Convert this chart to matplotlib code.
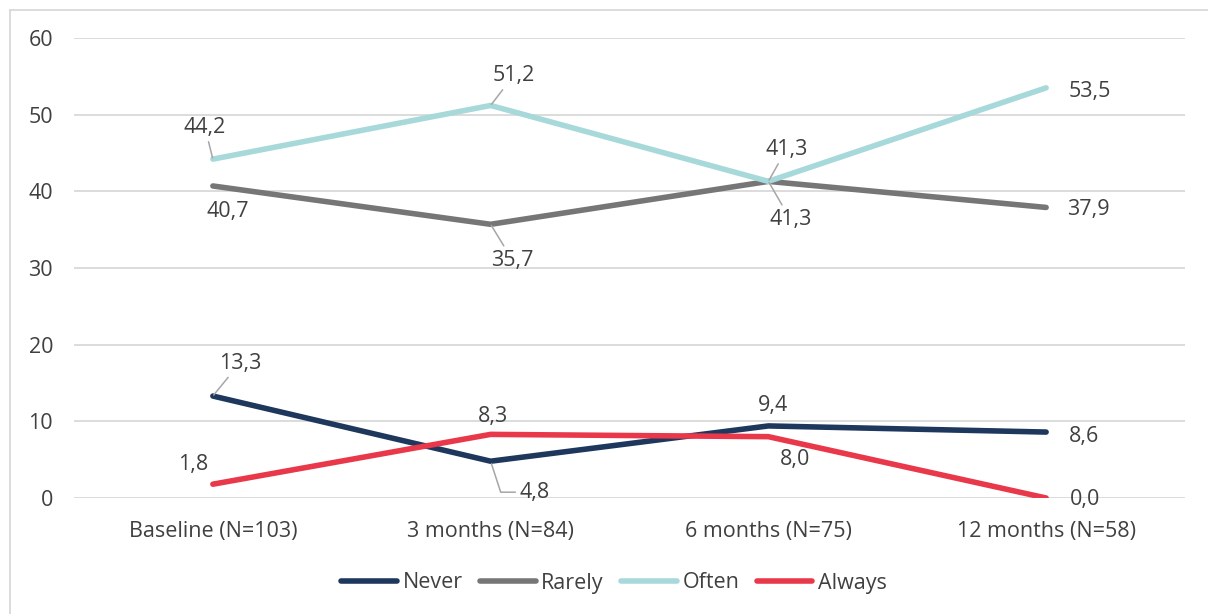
import matplotlib
matplotlib.use("Agg")
import matplotlib.pyplot as plt
from matplotlib.lines import Line2D

categories = ["Baseline (N=103)", "3 months (N=84)", "6 months (N=75)", "12 months (N=58)"]
never = [13.3, 4.8, 9.4, 8.6]
rarely = [40.7, 35.7, 41.3, 37.9]
often = [44.2, 51.2, 41.3, 53.5]
always = [1.8, 8.3, 8.0, 0.0]
series_names = ["Never", "Rarely", "Often", "Always"]
yticks = [0, 10, 20, 30, 40, 50, 60]

colors = ["#1E375C", "#767676", "#A8D9DA", "#E8384A"]
txt = "#404040"
FS = 15.5
plt.rcParams['font.family'] = ['Open Sans', 'DejaVu Sans']

W, H = 1208, 614
fig = plt.figure(figsize=(W / 100, H / 100), dpi=100)
ax = fig.add_axes([74 / W, (H - 498) / H, (1185 - 74) / W, (498 - 38) / H])

x = list(range(len(categories)))
data = [never, rarely, often, always]
for vals, c, name in zip(data, colors, series_names):
    ax.plot(x, vals, color=c, lw=4.0, solid_capstyle='round', solid_joinstyle='round', label=name, zorder=3)

ax.set_xlim(-0.5, len(categories) - 0.5)
ax.set_ylim(0, 60)
ax.set_yticks(yticks)
ax.set_yticklabels([str(v) for v in yticks])
ax.set_xticks(x)
ax.set_xticklabels(categories)
ax.tick_params(axis='both', length=0, labelsize=FS, colors=txt)
ax.tick_params(axis='y', pad=15)
ax.tick_params(axis='x', pad=16.5)
ax.grid(axis='y', color="#D9D9D9", lw=1.3)
ax.set_axisbelow(True)
for s in ax.spines.values():
    s.set_visible(False)

# label offsets in pixels (dx, dy) and whether a leader line is drawn
offsets = {
    0: [((27, 35), True), ((44, -29), 'elbow'), ((5, 22), False), ((38, -2), False)],
    1: [((15, -24), False), ((22, -34), True), ((22, -36), True), ((42, 0), False)],
    2: [((-8, 34), True), ((23, 32), True), ((18, 34), True), ((44, -2), False)],
    3: [((-20, 22), False), ((2, 20), False), ((27, -21), False), ((39, 0), False)],
}
for si, vals in enumerate(data):
    for i, v in enumerate(vals):
        (dx, dy), lead = offsets[si][i]
        label = f"{v:.1f}".replace('.', ',')
        kw = {}
        if lead is True:
            kw['arrowprops'] = dict(arrowstyle='-', color='#A6A6A6', lw=1.1, shrinkA=1, shrinkB=1)
        elif lead == 'elbow':
            kw['arrowprops'] = dict(arrowstyle='-', color='#A6A6A6', lw=1.1, shrinkA=1, shrinkB=2,
                                    connectionstyle="angle,angleA=180,angleB=-72,rad=0")
        ax.annotate(label, xy=(i, v), xytext=(dx, dy - 2), textcoords='offset pixels',
                    ha='center', va='center', fontsize=FS, color=txt, zorder=5, **kw)

handles = [Line2D([0], [0], color=c, lw=4.0, solid_capstyle='round') for c in colors]
fig.legend(handles, series_names, loc='center', bbox_to_anchor=(614 / W, (H - 583) / H),
           ncol=4, frameon=False, fontsize=FS, labelcolor=txt, handlelength=2.6,
           handletextpad=0.25, columnspacing=0.8)

# partial figure border (left and top visible)
fig.add_artist(Line2D([10 / W, 10 / W], [0, (H - 10) / H], color="#D9D9D9", lw=1.3, transform=fig.transFigure))
fig.add_artist(Line2D([10 / W, 1], [(H - 10) / H, (H - 10) / H], color="#D9D9D9", lw=1.3, transform=fig.transFigure))

fig.savefig("out.png", dpi=100, facecolor='white')
